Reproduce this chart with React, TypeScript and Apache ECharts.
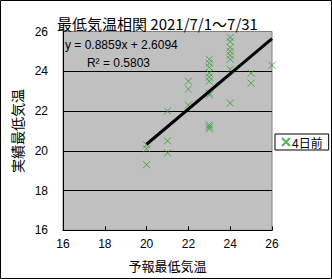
import React, { useEffect, useRef } from "react";
import * as echarts from "echarts";

const forecast: number[] = [
  20, 20, 20,
  21, 21, 21,
  22, 22, 22,
  23, 23, 23, 23, 23, 23, 23, 23, 23, 23, 23,
  24, 24, 24, 24, 24, 24, 24, 24,
  25, 25,
  26,
];
const actual: number[] = [
  20.3, 20.1, 19.3,
  22.0, 20.5, 19.9,
  23.5, 23.1, 22.3,
  24.6, 24.4, 24.2, 23.9, 23.7, 23.5, 22.9, 22.8, 21.3, 21.2, 21.1,
  25.7, 25.5, 25.2, 25.0, 24.8, 24.6, 24.1, 22.4,
  23.9, 23.4,
  24.3,
];
const slope = 0.8859;
const intercept = 2.6094;
const r2 = 0.5803;
const trendRange: number[] = [20, 26];
const axisTicks: number[] = [16, 18, 20, 22, 24, 26];
const seriesName = "4日前";
const titleText = "最低気温相関 2021/7/1～7/31";
const xName = "予報最低気温";
const yName = "実績最低気温";

const CJK = "'Noto Sans CJK JP', sans-serif";
const LAT = "'Liberation Sans', Arial, sans-serif";
const GREEN = "#2f9f2f";
const XSYM = "path://M0,0L10,10M10,0L0,10";

export default function App() {
  const ref = useRef<HTMLDivElement>(null);
  useEffect(() => {
    if (!ref.current) return;
    const chart = echarts.init(ref.current, null, { renderer: "svg" });
    const pts = forecast.map((x, i) => [x, actual[i]]);
    const trend = trendRange.map((x) => [x, slope * x + intercept]);
    chart.setOption({
      animation: false,
      backgroundColor: "#ffffff",
      title: {
        text: titleText,
        left: 52,
        top: 11,
        textStyle: { fontFamily: CJK, fontSize: 15, fontWeight: "normal", color: "#000" },
      },
      grid: {
        left: 63,
        right: 60,
        top: 31.5,
        bottom: 48.7,
        show: true,
        backgroundColor: "#c0c0c0",
        borderColor: "#808080",
        borderWidth: 1,
      },
      legend: {
        data: [{ name: seriesName, icon: XSYM }],
        left: 275,
        top: 134,
        orient: "vertical",
        itemWidth: 8,
        itemHeight: 8,
        itemGap: 0,
        padding: [2, 6, 2, 6],
        borderColor: "#000",
        borderWidth: 1,
        borderRadius: 0,
        backgroundColor: "#fff",
        textStyle: { fontFamily: CJK, fontSize: 12, color: "#000", padding: [0, 0, 0, -3] },
      },
      xAxis: {
        type: "value",
        min: axisTicks[0],
        max: axisTicks[axisTicks.length - 1],
        interval: 2,
        name: xName,
        nameLocation: "middle",
        nameGap: 29,
        nameTextStyle: { fontFamily: CJK, fontSize: 13, color: "#000" },
        axisLine: { show: true, lineStyle: { color: "#000", width: 1 } },
        axisTick: { show: true, inside: true, length: 4, lineStyle: { color: "#000" } },
        axisLabel: { fontFamily: LAT, fontSize: 12, color: "#000", margin: 8 },
        splitLine: { show: false },
      },
      yAxis: {
        type: "value",
        min: axisTicks[0],
        max: axisTicks[axisTicks.length - 1],
        interval: 2,
        name: yName,
        nameLocation: "middle",
        nameRotate: 90,
        nameGap: 31,
        nameTextStyle: { fontFamily: CJK, fontSize: 14, color: "#000" },
        axisLine: { show: true, lineStyle: { color: "#000", width: 1 } },
        axisTick: { show: false },
        axisLabel: { fontFamily: LAT, fontSize: 12, color: "#000", margin: 15 },
        splitLine: {
          show: true,
          lineStyle: {
            color: ["transparent", "#000", "#000", "#000", "#000", "transparent"],
            width: 1,
          },
        },
      },
      series: [
        {
          name: seriesName,
          type: "scatter",
          data: pts,
          symbol: XSYM,
          symbolSize: 7,
          itemStyle: { color: "transparent", borderColor: GREEN, borderWidth: 1 },
          z: 3,
        },
        {
          name: "trend",
          type: "line",
          data: trend,
          symbol: "none",
          lineStyle: { color: "#000", width: 3 },
          z: 4,
          silent: true,
        },
      ],
      graphic: [
        {
          type: "rect",
          shape: { x: 0.5, y: 0.5, width: 331, height: 278 },
          style: { fill: "none", stroke: "#000", lineWidth: 1 },
          z: 100,
        },
        {
          type: "text",
          x: 65,
          y: 45,
          style: {
            text: `y = ${slope.toFixed(4)}x + ${intercept.toFixed(4)}`,
            fontFamily: LAT,
            fontSize: 12,
            fill: "#000",
            textVerticalAlign: "middle",
          },
          z: 50,
        },
        {
          type: "text",
          x: 150,
          y: 62.5,
          style: {
            text: `R² = ${r2.toFixed(4)}`,
            fontFamily: LAT,
            fontSize: 12,
            fill: "#000",
            textAlign: "right",
            textVerticalAlign: "middle",
          },
          z: 50,
        },
      ],
    });
    return () => chart.dispose();
  }, []);
  return <div ref={ref} style={{ width: 332, height: 279, position: "absolute", left: 0, top: 0 }} />;
}
